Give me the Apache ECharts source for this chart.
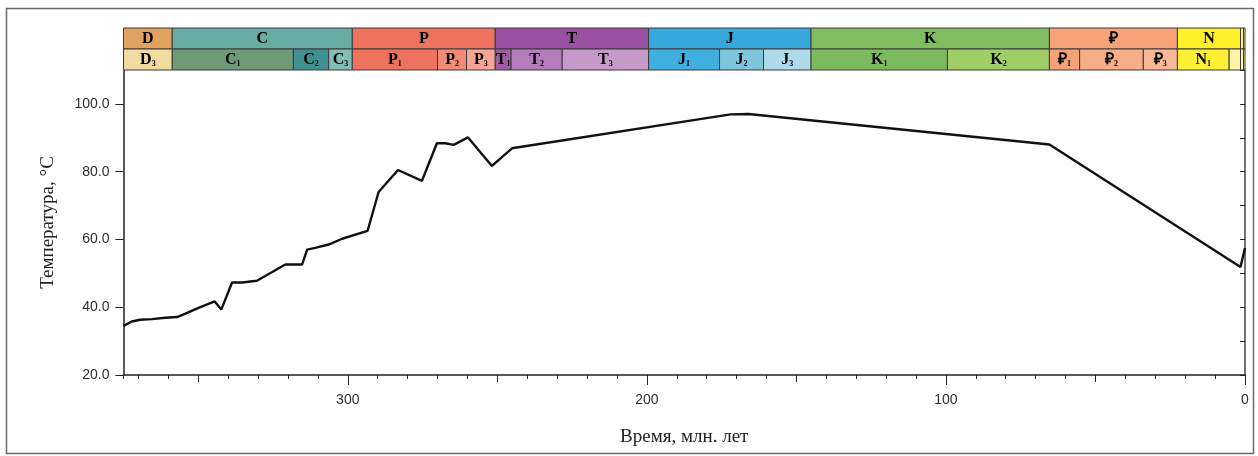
<!DOCTYPE html>
<html>
<head>
<meta charset="utf-8">
<script src="https://cdn.jsdelivr.net/npm/echarts@6/dist/echarts.min.js"></script>
<style>
  html, body { margin: 0; padding: 0; background: #fff; }
  #chart { width: 1258px; height: 456px; }
</style>
</head>
<body>
<div id="chart"></div>
<script>
// Burial temperature history, Ma before present
const ageMa = [375, 372.2, 369.4, 365.5, 361, 357.1, 354.3, 349.9, 344.5, 342.3,
  338.7, 335.4, 330.4, 325.4, 320.9, 315.3, 313.6, 310.9, 306.4, 301.9,
  293.4, 289.7, 283.2, 275.2, 270.2, 267.4, 264.6, 259.8, 251.8, 245.1,
  172, 166, 65.4, 1.5, 0];
const temperature = [34.5, 35.8, 36.3, 36.5, 36.9, 37.1, 38.1, 39.8, 41.7, 39.3,
  47.3, 47.3, 47.8, 50.3, 52.6, 52.6, 57.0, 57.5, 58.5, 60.2,
  62.5, 74.0, 80.5, 77.3, 88.4, 88.4, 87.9, 90.1, 81.7, 86.9,
  96.9, 97.0, 88.0, 51.9, 57.5];

// Geological time scale: periods (upper row) and epochs (lower row)
const periodNames = ['D', 'C', 'P', 'T', 'J', 'K', '₽', 'N', '', ''];
const periodBounds = [375, 358.7, 298.5, 250.7, 199.4, 145.1, 65.4, 22.6, 1.5, 0.5, 0];
const epochNames = ['D3', 'C1', 'C2', 'C3', 'P1', 'P2', 'P3', 'T1', 'T2', 'T3',
  'J1', 'J2', 'J3', 'K1', 'K2', '₽1', '₽2', '₽3', 'N1', '', '', ''];
const epochBounds = [375, 358.7, 318.2, 306.4, 298.5, 270, 260.3, 250.7, 245.4, 228.3,
  199.4, 175.7, 161, 145.1, 99.5, 65.4, 55.3, 34, 22.6, 5.3, 1.5, 0.5, 0];

// Axis ticks and labels
const xLabelTicks = [300, 200, 100, 0];
const xMidTicks = [350, 250, 150, 50];
const yLabelTicks = [20, 40, 60, 80, 100];

// Fill colours of the time-scale cells
const periodColors = ['#e2a25f', '#68aba3', '#ee735f', '#9a50a1', '#37a8dc', '#80bd5f',
  '#f6a378', '#fff02a', '#fdf08c', '#fdf08c'];
const epochColors = ['#f2dba0', '#6f9a78', '#3f9191', '#82bdb8', '#ee735f', '#f28c77', '#f5a696',
  '#a05da6', '#b47cbb', '#c59aca', '#40aede', '#7fc6dd', '#aedaea', '#7cbb5d', '#a1cd66',
  '#f5a278', '#f7ae88', '#f8b895', '#fef133', '#fdf6a8', '#fdf3b0', '#fdf3b0'];

const toPairs = b => b.slice(0, -1).map((s, k) => [s, b[k + 1]]);

const bandRich = {
  m: { fontFamily: 'Liberation Serif', fontWeight: 'bold', fontSize: 16, lineHeight: 17, color: '#2b2b2b' },
  s: { fontFamily: 'Liberation Serif', fontWeight: 'bold', fontSize: 8, lineHeight: 11, color: '#2b2b2b', verticalAlign: 'bottom' }
};

function bandRenderer(names, colors, row) {
  return function (params, api) {
    const i = params.dataIndex;
    const a = api.coord([api.value(0), 2 - row]);
    const b = api.coord([api.value(1), 1 - row]);
    const x = Math.min(a[0], b[0]);
    const w = Math.abs(b[0] - a[0]);
    const y = Math.min(a[1], b[1]);
    const h = Math.abs(b[1] - a[1]);
    const name = names[i];
    const children = [{
      type: 'rect',
      shape: { x: x, y: y, width: w, height: h },
      style: { fill: colors[i], stroke: '#3a3a3a', lineWidth: 1 }
    }];
    if (name) {
      const main = name.charAt(0);
      const sub = name.slice(1);
      children.push({
        type: 'text',
        x: x + w / 2,
        y: y + h / 2,
        style: {
          text: sub ? '{m|' + main + '}{s|' + sub + '}' : '{m|' + main + '}',
          rich: bandRich,
          align: 'center',
          verticalAlign: 'middle'
        }
      });
    }
    return { type: 'group', children: children };
  };
}

const axisColor = '#222';
const labelFont = { fontFamily: 'Liberation Sans', fontSize: 14, color: '#2e2e2e' };
const nameFont = { fontFamily: 'Liberation Serif', fontSize: 19, color: '#222' };

const chart = echarts.init(document.getElementById('chart'), null, { renderer: 'canvas' });
chart.setOption({
  animation: false,
  backgroundColor: '#fff',
  graphic: [{
    type: 'rect',
    shape: { x: 6.5, y: 8.5, width: 1247, height: 445 },
    style: { fill: 'none', stroke: '#6a6a6a', lineWidth: 1.5 },
    silent: true
  }],
  grid: [
    { left: 123.5, right: 13, top: 70, height: 305 },
    { left: 123.5, right: 13, top: 28, height: 42 }
  ],
  xAxis: [
    {
      gridIndex: 0, type: 'value', inverse: true, min: 0, max: 375, interval: 10,
      position: 'bottom',
      name: 'Время, млн. лет', nameLocation: 'middle', nameGap: 53, nameTextStyle: nameFont,
      axisLine: { onZero: false, lineStyle: { color: axisColor, width: 1.5 } },
      axisTick: { length: 4, lineStyle: { color: axisColor } },
      axisLabel: { customValues: xLabelTicks, margin: 18, ...labelFont },
      splitLine: { show: false }
    },
    {
      gridIndex: 0, type: 'value', inverse: true, min: 0, max: 375, position: 'bottom',
      axisLine: { show: false, onZero: false },
      axisTick: { customValues: xMidTicks, length: 7, lineStyle: { color: axisColor } },
      axisLabel: { show: false },
      splitLine: { show: false }
    },
    {
      gridIndex: 0, type: 'value', inverse: true, min: 0, max: 375, position: 'bottom',
      axisLine: { show: false, onZero: false },
      axisTick: { customValues: xLabelTicks, length: 10, lineStyle: { color: axisColor } },
      axisLabel: { show: false },
      splitLine: { show: false }
    },
    {
      gridIndex: 1, type: 'value', inverse: true, min: 0, max: 375, show: false
    }
  ],
  yAxis: [
    {
      gridIndex: 0, type: 'value', min: 20, max: 110, interval: 20, position: 'left',
      name: 'Температура, °C', nameLocation: 'middle', nameGap: 66, nameTextStyle: nameFont,
      axisLine: { show: true, onZero: false, lineStyle: { color: axisColor, width: 1.5 } },
      axisTick: { show: true, customValues: yLabelTicks, length: 8, lineStyle: { color: axisColor } },
      axisLabel: { customValues: yLabelTicks, formatter: v => v.toFixed(1), margin: 14, ...labelFont },
      splitLine: { show: false }
    },
    {
      gridIndex: 0, type: 'value', min: 20, max: 110, interval: 10, position: 'left',
      axisLine: { show: false },
      axisTick: { show: true, length: 5, lineStyle: { color: axisColor } },
      axisLabel: { show: false },
      splitLine: { show: false }
    },
    {
      gridIndex: 0, type: 'value', min: 20, max: 110, position: 'right',
      axisLine: { show: true, lineStyle: { color: '#444', width: 1.5 } },
      axisTick: { show: false },
      axisLabel: { show: false },
      splitLine: { show: false }
    },
    {
      gridIndex: 1, type: 'value', min: 0, max: 2, show: false
    }
  ],
  series: [
    {
      type: 'custom', xAxisIndex: 3, yAxisIndex: 3,
      renderItem: bandRenderer(periodNames, periodColors, 0),
      data: toPairs(periodBounds)
    },
    {
      type: 'custom', xAxisIndex: 3, yAxisIndex: 3,
      renderItem: bandRenderer(epochNames, epochColors, 1),
      data: toPairs(epochBounds)
    },
    {
      type: 'line', xAxisIndex: 0, yAxisIndex: 0,
      showSymbol: false,
      lineStyle: { color: '#111', width: 2.4 },
      data: ageMa.map((t, k) => [t, temperature[k]])
    }
  ]
});
</script>
</body>
</html>
